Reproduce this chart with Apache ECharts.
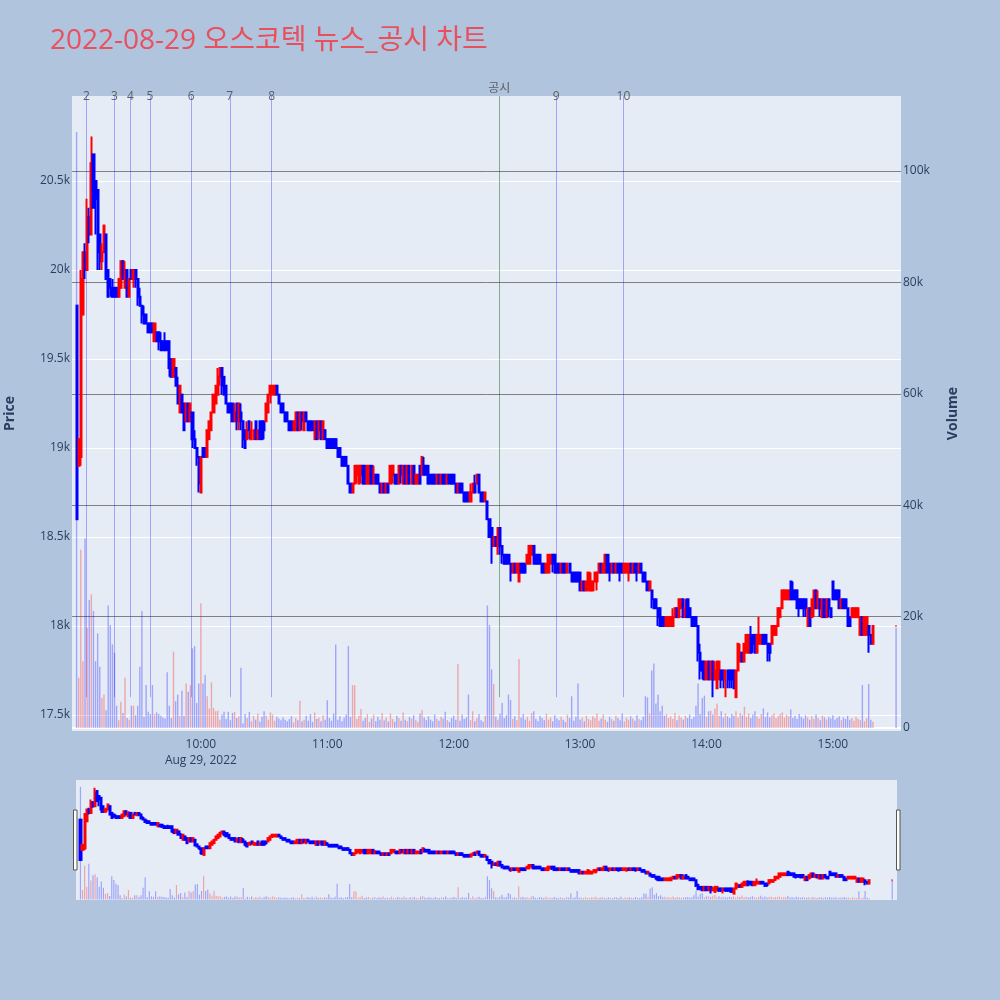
<!DOCTYPE html>
<html><head><meta charset="utf-8">
<script src="https://cdn.jsdelivr.net/npm/echarts@6/dist/echarts.min.js"></script>
<style>html,body{margin:0;padding:0;background:#b0c4de;} #chart{width:1000px;height:1000px;}</style>
</head><body><div id="chart"></div>
<script>
const DAY = '2022-08-29';
const times = [
'09:01','09:02','09:03','09:04','09:05','09:06','09:07','09:08','09:09','09:10','09:11','09:12','09:13','09:14','09:15','09:16','09:17','09:18','09:19','09:20','09:21','09:22','09:23','09:24','09:25','09:26','09:27','09:28','09:29','09:30','09:31','09:32','09:33','09:34','09:35','09:36','09:37','09:38','09:39','09:40','09:41','09:42','09:43','09:44','09:45','09:46','09:47','09:48','09:49','09:50','09:51','09:52','09:53','09:54','09:55','09:56','09:57','09:58','09:59',
'10:00','10:01','10:02','10:03','10:04','10:05','10:06','10:07','10:08','10:09','10:10','10:11','10:12','10:13','10:14','10:15','10:16','10:17','10:18','10:19','10:20','10:21','10:22','10:23','10:24','10:25','10:26','10:27','10:28','10:29','10:30','10:31','10:32','10:33','10:34','10:35','10:36','10:37','10:38','10:39','10:40','10:41','10:42','10:43','10:44','10:45','10:46','10:47','10:48','10:49','10:50','10:51','10:52','10:53','10:54','10:55','10:56','10:57','10:58','10:59',
'11:00','11:01','11:02','11:03','11:04','11:05','11:06','11:07','11:08','11:09','11:10','11:11','11:12','11:13','11:14','11:15','11:16','11:17','11:18','11:19','11:20','11:21','11:22','11:23','11:24','11:25','11:26','11:27','11:28','11:29','11:30','11:31','11:32','11:33','11:34','11:35','11:36','11:37','11:38','11:39','11:40','11:41','11:42','11:43','11:44','11:45','11:46','11:47','11:48','11:49','11:50','11:51','11:52','11:53','11:54','11:55','11:56','11:57','11:58','11:59',
'12:00','12:01','12:02','12:03','12:04','12:05','12:06','12:07','12:08','12:09','12:10','12:11','12:12','12:13','12:14','12:15','12:16','12:17','12:18','12:19','12:20','12:21','12:22','12:23','12:24','12:25','12:26','12:27','12:28','12:29','12:30','12:31','12:32','12:33','12:34','12:35','12:36','12:37','12:38','12:39','12:40','12:41','12:42','12:43','12:44','12:45','12:46','12:47','12:48','12:49','12:50','12:51','12:52','12:53','12:54','12:55','12:56','12:57','12:58','12:59',
'13:00','13:01','13:02','13:03','13:04','13:05','13:06','13:07','13:08','13:09','13:10','13:11','13:12','13:13','13:14','13:15','13:16','13:17','13:18','13:19','13:20','13:21','13:22','13:23','13:24','13:25','13:26','13:27','13:28','13:29','13:30','13:31','13:32','13:33','13:34','13:35','13:36','13:37','13:38','13:39','13:40','13:41','13:42','13:43','13:44','13:45','13:46','13:47','13:48','13:49','13:50','13:51','13:52','13:53','13:54','13:55','13:56','13:57','13:58','13:59',
'14:00','14:01','14:02','14:03','14:04','14:05','14:06','14:07','14:08','14:09','14:10','14:11','14:12','14:13','14:14','14:15','14:16','14:17','14:18','14:19','14:20','14:21','14:22','14:23','14:24','14:25','14:26','14:27','14:28','14:29','14:30','14:31','14:32','14:33','14:34','14:35','14:36','14:37','14:38','14:39','14:40','14:41','14:42','14:43','14:44','14:45','14:46','14:47','14:48','14:49','14:50','14:51','14:52','14:53','14:54','14:55','14:56','14:57','14:58','14:59',
'15:00','15:01','15:02','15:03','15:04','15:05','15:06','15:07','15:08','15:09','15:10','15:11','15:12','15:13','15:14','15:15','15:16','15:17','15:18','15:19',
'15:30'
];
// [open, close, low, high]
const ohlc = [
[19800,18600,18600,19800],[18900,19050,18900,19050],[18950,19950,18900,20000],[19750,20100,19750,20100],[20100,20000,19950,20150],[20000,20300,20000,20400],[20300,20200,20150,20350],[20200,20600,20200,20750],[20650,20350,20350,20650],[20500,20400,20200,20500],
[20450,20100,20000,20450],[20200,20050,20000,20200],[20050,20100,20000,20150],[20100,20250,20100,20250],[20200,19950,19950,20200],[20000,19850,19850,20000],[19950,19900,19850,19950],[19900,19850,19850,19950],[19900,19850,19850,19900],[19900,19850,19850,19900],
[19850,19950,19850,19950],[19900,20050,19900,20050],[20050,19950,19950,20050],[19900,20000,19900,20050],[20000,19850,19850,20000],[19850,19950,19850,19950],[20000,19950,19950,20000],[19950,20000,19900,20000],[20000,19950,19900,20000],[19950,19850,19800,19950],
[19850,19800,19800,19900],[19800,19750,19700,19800],[19750,19700,19700,19800],[19750,19700,19700,19750],[19700,19650,19650,19700],[19700,19650,19650,19700],[19700,19650,19650,19700],[19600,19700,19600,19700],[19650,19600,19600,19650],[19650,19600,19550,19650],
[19600,19550,19550,19650],[19600,19550,19550,19600],[19600,19550,19550,19650],[19600,19550,19550,19600],[19600,19450,19400,19600],[19500,19400,19400,19500],[19400,19500,19400,19500],[19450,19350,19350,19450],[19350,19250,19250,19400],[19200,19350,19200,19350],
[19300,19200,19200,19300],[19250,19100,19100,19250],[19150,19250,19150,19250],[19250,19150,19150,19250],[19150,19250,19150,19250],[19200,19050,19000,19200],[19050,19000,19000,19100],[19000,18950,18900,19000],[18950,18800,18750,18950],[18750,18950,18750,18950],
[19000,18950,18950,19000],[19000,18950,18950,19000],[18950,19100,18950,19100],[19050,19150,19050,19150],[19100,19200,19100,19200],[19200,19300,19200,19300],[19250,19350,19250,19350],[19300,19400,19300,19450],[19400,19450,19350,19450],[19450,19350,19300,19450],
[19400,19300,19300,19400],[19350,19250,19250,19350],[19250,19200,19200,19250],[19250,19200,19200,19250],[19250,19150,19150,19250],[19150,19200,19150,19250],[19250,19150,19100,19250],[19150,19250,19100,19250],[19200,19150,19100,19250],[19150,19050,19000,19150],
[19100,19000,19000,19100],[19050,19100,19050,19150],[19150,19100,19050,19150],[19050,19100,19050,19150],[19050,19100,19050,19100],[19150,19050,19050,19150],[19050,19100,19050,19100],[19150,19050,19050,19150],[19150,19050,19050,19150],[19150,19100,19050,19150],
[19150,19250,19150,19250],[19200,19300,19200,19300],[19300,19350,19250,19350],[19300,19350,19300,19350],[19300,19350,19300,19350],[19350,19300,19300,19350],[19300,19250,19250,19300],[19250,19200,19200,19250],[19250,19200,19200,19250],[19200,19150,19150,19200],
[19200,19150,19150,19200],[19150,19100,19100,19150],[19150,19100,19100,19150],[19100,19150,19100,19150],[19100,19200,19100,19200],[19200,19100,19100,19200],[19100,19200,19100,19200],[19200,19150,19100,19200],[19100,19200,19100,19200],[19200,19150,19150,19200],
[19150,19100,19100,19150],[19150,19100,19100,19150],[19150,19100,19100,19150],[19050,19150,19050,19150],[19150,19050,19050,19150],[19100,19150,19050,19150],[19150,19050,19050,19150],[19050,19150,19050,19150],[19100,19050,19050,19100],[19050,19000,19000,19050],
[19050,19000,19000,19050],[19050,19000,19000,19050],[19050,19000,19000,19050],[19050,19000,19000,19050],[19000,18950,18950,19000],[19000,18950,18950,19000],[18950,18900,18900,18950],[18950,18900,18900,18950],[18950,18900,18900,18950],[18900,18800,18800,18900],
[18800,18750,18750,18800],[18750,18800,18750,18800],[18800,18900,18800,18900],[18850,18900,18800,18900],[18800,18900,18800,18900],[18850,18900,18800,18900],[18900,18800,18800,18900],[18900,18800,18800,18900],[18800,18900,18800,18900],[18800,18900,18800,18900],
[18900,18800,18800,18900],[18800,18850,18800,18900],[18850,18800,18800,18850],[18850,18800,18800,18850],[18800,18750,18750,18800],[18750,18800,18750,18800],[18800,18750,18750,18800],[18750,18800,18750,18800],[18800,18750,18750,18800],[18800,18900,18800,18900],
[18850,18900,18800,18900],[18850,18800,18800,18850],[18850,18800,18800,18850],[18800,18900,18800,18900],[18900,18850,18800,18900],[18800,18900,18800,18900],[18900,18800,18800,18900],[18800,18900,18800,18900],[18900,18800,18800,18900],[18800,18900,18800,18900],
[18900,18800,18800,18900],[18800,18850,18800,18850],[18800,18850,18800,18850],[18900,18800,18800,18900],[18850,18950,18850,18950],[18900,18850,18850,18950],[18900,18850,18850,18900],[18900,18800,18800,18900],[18850,18800,18800,18850],[18850,18800,18800,18850],
[18850,18800,18800,18850],[18800,18850,18800,18850],[18850,18800,18800,18850],[18800,18850,18800,18850],[18850,18800,18800,18850],[18850,18800,18800,18850],[18800,18850,18800,18850],[18850,18800,18800,18850],[18850,18800,18800,18850],[18850,18800,18800,18850],
[18800,18750,18750,18800],[18750,18800,18750,18800],[18800,18750,18750,18800],[18800,18750,18750,18800],[18750,18700,18700,18750],[18750,18700,18700,18750],[18750,18700,18700,18750],[18700,18750,18700,18800],[18750,18800,18750,18800],[18800,18750,18750,18850],
[18800,18850,18800,18850],[18850,18750,18750,18850],[18750,18700,18700,18750],[18750,18700,18700,18750],[18700,18750,18700,18750],[18700,18600,18600,18700],[18600,18500,18500,18600],[18550,18450,18350,18550],[18450,18500,18450,18500],[18500,18450,18450,18500],
[18450,18550,18400,18550],[18550,18450,18400,18550],[18450,18400,18350,18450],[18400,18350,18350,18400],[18400,18350,18350,18400],[18400,18350,18350,18400],[18350,18300,18250,18350],[18300,18350,18300,18350],[18350,18300,18300,18350],[18300,18350,18300,18350],
[18250,18350,18250,18350],[18350,18300,18300,18350],[18350,18300,18300,18350],[18350,18300,18300,18350],[18350,18400,18350,18400],[18350,18450,18350,18450],[18400,18450,18400,18450],[18450,18350,18350,18450],[18400,18350,18350,18400],[18400,18350,18350,18400],
[18400,18350,18350,18400],[18350,18300,18300,18350],[18350,18300,18300,18350],[18300,18350,18300,18350],[18300,18400,18300,18400],[18350,18400,18350,18400],[18400,18350,18300,18400],[18400,18300,18300,18400],[18350,18300,18300,18350],[18350,18300,18300,18350],
[18300,18350,18300,18350],[18350,18300,18300,18350],[18350,18300,18300,18350],[18300,18350,18300,18350],[18350,18300,18300,18350],[18300,18250,18250,18300],[18300,18250,18250,18300],[18300,18250,18250,18300],[18300,18250,18250,18300],[18300,18200,18200,18300],
[18200,18250,18200,18250],[18250,18200,18200,18250],[18200,18250,18200,18250],[18200,18300,18200,18300],[18200,18250,18200,18300],[18200,18250,18200,18250],[18250,18300,18250,18300],[18250,18300,18200,18300],[18300,18350,18300,18350],[18350,18300,18300,18350],
[18300,18350,18300,18350],[18300,18400,18300,18400],[18400,18300,18300,18400],[18350,18300,18250,18350],[18300,18350,18300,18350],[18350,18300,18300,18350],[18300,18350,18300,18350],[18350,18300,18300,18350],[18350,18300,18250,18350],[18350,18300,18300,18350],
[18300,18350,18300,18350],[18300,18350,18300,18350],[18300,18350,18250,18350],[18350,18300,18300,18350],[18300,18350,18300,18350],[18350,18300,18300,18350],[18350,18300,18250,18350],[18300,18350,18300,18350],[18350,18300,18300,18350],[18300,18250,18250,18300],
[18300,18250,18250,18300],[18250,18200,18200,18250],[18200,18250,18200,18250],[18200,18150,18100,18200],[18150,18100,18100,18150],[18150,18100,18100,18150],[18100,18050,18000,18100],[18100,18000,18000,18100],[18050,18000,18000,18050],[18050,18000,18000,18050],
[18000,18050,18000,18050],[18000,18050,18000,18050],[18000,18050,18000,18050],[18000,18050,18000,18100],[18050,18100,18050,18100],[18100,18050,18050,18100],[18050,18150,18050,18150],[18100,18150,18100,18150],[18150,18050,18050,18150],[18050,18100,18050,18150],
[18150,18050,18050,18150],[18100,18050,18050,18100],[18050,18000,18000,18050],[18050,18000,18000,18050],[18050,18000,18000,18050],[18000,17850,17800,18000],[17850,17750,17700,17900],[17800,17750,17700,17800],[17800,17700,17700,17800],[17700,17800,17700,17800],
[17800,17700,17700,17800],[17700,17800,17700,17800],[17800,17700,17600,17800],[17700,17750,17700,17800],[17650,17800,17650,17800],[17700,17800,17700,17800],[17750,17700,17650,17750],[17750,17700,17650,17750],[17700,17750,17600,17750],[17750,17700,17650,17750],
[17750,17700,17650,17750],[17750,17700,17650,17750],[17750,17650,17650,17750],[17600,17750,17600,17750],[17750,17900,17750,17900],[17800,17850,17800,17900],[17850,17800,17800,17850],[17800,17900,17800,17900],[17850,17950,17850,17950],[17850,17950,17850,17950],
[17950,17850,17850,18000],[17950,17900,17850,17950],[17950,17850,17850,17950],[17850,17950,17850,17950],[17900,17950,17900,18050],[17900,17950,17900,17950],[17950,17900,17900,17950],[17950,17900,17900,17950],[17900,17850,17800,17900],[17900,17850,17800,17900],
[17900,18000,17900,18000],[17950,18000,17950,18000],[17950,18000,17950,18000],[18000,18100,18000,18100],[18050,18100,18050,18100],[18100,18200,18100,18200],[18150,18200,18150,18200],[18150,18200,18150,18200],[18150,18200,18150,18200],[18250,18150,18150,18250],
[18200,18150,18150,18250],[18200,18150,18150,18200],[18200,18100,18100,18200],[18150,18100,18050,18150],[18150,18100,18100,18150],[18150,18100,18050,18150],[18150,18100,18050,18150],[18000,18100,18000,18100],[18100,18000,18000,18100],[18050,18150,18050,18150],
[18100,18200,18050,18200],[18200,18100,18100,18200],[18100,18150,18100,18200],[18150,18100,18050,18150],[18050,18150,18050,18150],[18150,18050,18050,18150],[18050,18150,18050,18150],[18150,18100,18050,18150],[18100,18050,18050,18100],[18250,18150,18150,18250],
[18200,18150,18150,18200],[18200,18150,18150,18200],[18200,18100,18100,18200],[18100,18150,18100,18150],[18150,18100,18100,18150],[18150,18100,18100,18150],[18100,18000,18000,18100],[18050,18000,18000,18050],[18050,18100,18050,18100],[18050,18100,18050,18100],
[18050,18100,18050,18100],[18050,18100,18050,18100],[17950,18050,17950,18050],[18050,17950,17950,18050],[17950,18050,17950,18050],[17950,18050,17950,18050],[18000,17950,17850,18000],[17950,17900,17900,17950],[17900,18000,17900,18000],
[18000,18000,18000,18000]
];
const volumes = [
107000,9000,32000,12000,34000,18000,23000,24000,21000,12000,
17000,11000,5400,6000,3200,22000,18500,15000,13500,4000,
1400,4700,2700,9000,1800,1500,4000,4000,2300,4000,
11000,21000,2000,7700,2900,2500,7700,2500,2800,2500,
2200,1900,1700,10000,4000,1800,13700,4800,6000,2200,
6700,2200,8000,6500,7700,14300,14700,4500,8000,22400,
8000,9500,5700,3500,8200,3600,3000,3100,1500,2400,
2900,1600,2900,1400,2700,2900,1800,2100,10800,800,
2500,1800,2900,1200,2200,1500,2600,1100,2000,3000,
2200,1500,2800,2400,1300,2000,1700,1400,1900,1500,
1200,1600,2100,1000,1800,1400,4900,1200,1500,2200,
1300,2500,1100,2800,1600,1900,1200,2300,1500,5000,
1800,1300,2600,15000,1500,2100,1200,1900,2400,14700,
2000,7700,7700,1600,2200,3400,1300,1800,2500,1100,
1700,2400,1200,2000,1500,2700,1400,1900,1200,2600,
1600,1100,2200,1800,1300,2800,1500,1200,2000,1700,
2300,1400,1100,2600,3200,1900,1400,2100,1500,1200,
2400,1600,1300,2000,1700,2900,1400,1100,1800,2200,
1500,11500,1300,2400,1600,1900,6000,1400,3000,1200,
1800,2500,1400,1100,2200,22000,18500,10500,7900,2000,
1500,2600,4500,1800,2300,6000,5000,1600,2100,1400,
12400,1900,2500,1500,2000,1300,2700,3000,1600,1200,
2200,1800,1400,2600,1500,1900,1200,2300,1700,1400,
2000,1500,1100,2400,1800,5700,1300,2000,8000,1500,
1900,1200,2200,1600,1400,2100,1800,2600,1300,1700,
2400,1500,1100,2000,1600,1300,2200,1800,1400,2600,
1200,1900,1500,2100,1700,1300,2300,1600,1400,2000,
5700,5500,2600,10300,11600,4400,6000,3000,4000,2200,
2500,1800,2100,1600,2700,1400,2300,1900,1500,2200,
1800,2400,1600,2000,4000,8000,2500,5400,5800,2000,
3000,3100,2400,3500,4400,2200,3000,1900,2600,2100,
1800,2500,2200,3000,1900,2700,2300,3800,2000,2600,
1800,2400,3000,2100,1700,2500,3500,2000,2800,1900,
2300,2600,1800,2200,2500,2800,1900,2400,2100,3300,
1800,2200,1600,2500,2000,1700,2300,1900,1500,2100,
1600,2400,1800,1400,2200,1900,1500,2000,1700,2300,
1500,1800,2100,1400,1900,1600,2200,1500,1800,1300,
2000,1600,1400,7700,1200,1800,7900,1500,1100,
18000
];
const priceTicks = [17500,18000,18500,19000,19500,20000,20500];
const volumeTicks = [0,20000,40000,60000,80000,100000];
const newsLabels = ['2','3','4','5','6','7','8','공시','9','10'];
const newsTimes = ['09:05:38','09:19:00','09:26:36','09:35:48','09:55:24','10:13:42','10:33:36','12:21:36','12:48:42','13:20:36'];

function ts(hm){ const s = hm.length === 5 ? hm + ':00' : hm; return Date.parse(DAY + 'T' + s); }
const FONT = '"Open Sans", "Noto Sans CJK KR", sans-serif';
const AXC = '#2a3f5f';
const xMin = ts('08:59:09'), xMax = ts('15:32:00');
const pMin = 17410, pMax = 20978, vMin = -540, vMax = 113460;

const candleData = times.map((t, i) => [ts(t)].concat(ohlc[i]));
const volData = times.map((t, i) => [ts(t), volumes[i]]);
const volColor = p => (ohlc[p.dataIndex][1] > ohlc[p.dataIndex][0]) ? 'rgba(255,0,0,0.3)' : 'rgba(0,0,255,0.3)';
const candleStyle = {color:'#ff0000', color0:'#0000ff', borderColor:'#ff0000', borderColor0:'#0000ff', borderWidth:2};
const kfmt = v => v === 0 ? '0' : (v / 1000) + 'k';
const pad = n => (n < 10 ? '0' : '') + n;

const chart = echarts.init(document.getElementById('chart'), null, {renderer:'canvas'});
chart.setOption({
  animation: false,
  backgroundColor: '#b0c4de',
  textStyle: {fontFamily: FONT},
  title: {text: '2022-08-29 오스코텍 뉴스_공시 차트', left: 45, top: 22,
    textStyle: {color: '#e8505e', fontSize: 28, fontWeight: 'normal', fontFamily: FONT}},
  grid: [
    {left: 72, right: 99, top: 96, bottom: 269, show: true, backgroundColor: '#e5ecf6', borderWidth: 0, outerBoundsMode: 'none', containLabel: false},
    {left: 76, right: 103, top: 780, height: 120, show: true, backgroundColor: '#e5ecf6', borderWidth: 0, outerBoundsMode: 'none', containLabel: false}
  ],
  xAxis: [
    {type: 'time', gridIndex: 0, min: xMin, max: xMax, minInterval: 3600000, maxInterval: 3600000,
      axisLine: {show: false}, axisTick: {show: false}, splitLine: {show: false},
      axisLabel: {color: AXC, fontSize: 12, margin: 6, lineHeight: 16, fontFamily: FONT, showMinLabel: false, showMaxLabel: false,
        formatter: v => { const d = new Date(v); if (d.getMinutes() !== 0 || d.getHours() < 10) return ''; const s = pad(d.getHours()) + ':00'; return d.getHours() === 10 ? s + '\nAug 29, 2022' : s; }}},
    {type: 'time', gridIndex: 1, min: xMin, max: xMax, show: false}
  ],
  yAxis: [
    {type: 'value', gridIndex: 0, min: pMin, max: pMax, position: 'left',
      axisLine: {show: false}, axisTick: {show: false}, splitLine: {show: false},
      axisLabel: {customValues: priceTicks, formatter: kfmt, color: AXC, fontSize: 12, margin: 2, fontFamily: FONT},
      name: 'Price', nameLocation: 'middle', nameRotate: 90, nameGap: 55,
      nameTextStyle: {color: AXC, fontSize: 14, fontWeight: 'bold', fontFamily: FONT}},
    {type: 'value', gridIndex: 0, min: vMin, max: vMax, position: 'right',
      axisLine: {show: false}, axisTick: {show: false}, splitLine: {show: false},
      axisLabel: {customValues: volumeTicks, formatter: kfmt, color: AXC, fontSize: 12, margin: 2, fontFamily: FONT},
      name: 'Volume', nameLocation: 'middle', nameRotate: 90, nameGap: 45,
      nameTextStyle: {color: AXC, fontSize: 14, fontWeight: 'bold', fontFamily: FONT}},
    {type: 'value', gridIndex: 1, min: pMin, max: pMax, show: false},
    {type: 'value', gridIndex: 1, min: vMin, max: vMax, show: false}
  ],
  series: [
    {type: 'bar', xAxisIndex: 0, yAxisIndex: 1, data: volData, barWidth: 1.4, z: 2,
      itemStyle: {color: volColor},
      markLine: {z: 1, silent: true, symbol: 'none', animation: false, label: {show: false},
        data: volumeTicks.map(v => ({yAxis: v, lineStyle: {color: v === 0 ? '#ffffff' : '#808080', width: v === 0 ? 2 : 1, type: 'solid'}}))}},
    {type: 'candlestick', xAxisIndex: 0, yAxisIndex: 0, data: candleData, barWidth: 1.6, z: 4,
      itemStyle: candleStyle,
      markLine: {z: 1, silent: true, symbol: 'none', animation: false, label: {show: false},
        lineStyle: {color: '#ffffff', width: 1, type: 'solid'},
        data: priceTicks.map(v => ({yAxis: v}))}},
    {type: 'scatter', xAxisIndex: 0, yAxisIndex: 0, symbolSize: 0, clip: false, z: 5, silent: true,
      data: newsTimes.map((t, i) => ({value: [ts(t), 20972],
        label: {show: true, formatter: newsLabels[i], position: 'inside', color: '#444', fontSize: 12, fontFamily: FONT,
          offset: newsLabels[i] === '공시' ? [0, -8] : [0, 0]}})),
      markLine: {z: 2, silent: true, symbol: 'none', animation: false, label: {show: false},
        data: newsTimes.map((t, i) => [
          {coord: [ts(t), 17600], lineStyle: {color: newsLabels[i] === '공시' ? 'rgba(0,100,0,0.45)' : 'rgba(0,0,255,0.3)', width: 1, type: 'solid'}},
          {coord: [ts(t), pMax]}])}},
    {type: 'bar', xAxisIndex: 1, yAxisIndex: 3, data: volData, barWidth: 1.2, z: 2,
      itemStyle: {color: volColor}},
    {type: 'candlestick', xAxisIndex: 1, yAxisIndex: 2, data: candleData, barWidth: 1.6, z: 4,
      itemStyle: candleStyle}
  ],
  graphic: [
    {type: 'rect', shape: {x: 73.5, y: 810, width: 3.5, height: 60}, style: {fill: '#ffffff', stroke: '#555', lineWidth: 1}},
    {type: 'rect', shape: {x: 896.5, y: 810, width: 3.5, height: 60}, style: {fill: '#ffffff', stroke: '#555', lineWidth: 1}}
  ]
});
</script></body></html>
